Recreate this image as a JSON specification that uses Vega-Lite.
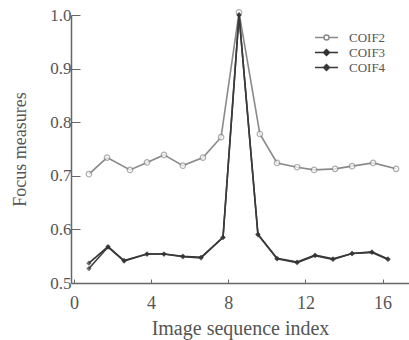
{
  "$schema": "https://vega.github.io/schema/vega-lite/v6.json",
  "width": 338,
  "height": 268,
  "autosize": {"type": "none"},
  "padding": {"left": 71, "top": 15, "right": 0, "bottom": 57},
  "background": "white",
  "config": {
    "view": {"stroke": null},
    "font": "Liberation Serif",
    "axis": {"grid": false, "domainColor": "#666", "tickColor": "#666", "labelColor": "#555", "titleColor": "#555", "labelFont": "Liberation Serif", "titleFont": "Liberation Serif", "titleFontWeight": "normal", "domainWidth": 1.5}
  },
  "data": {"values": [
    {"s": "COIF2", "x": 0.78, "y": 0.703},
    {"s": "COIF2", "x": 1.72, "y": 0.734},
    {"s": "COIF2", "x": 2.91, "y": 0.711},
    {"s": "COIF2", "x": 3.79, "y": 0.725},
    {"s": "COIF2", "x": 4.67, "y": 0.739},
    {"s": "COIF2", "x": 5.65, "y": 0.719},
    {"s": "COIF2", "x": 6.69, "y": 0.734},
    {"s": "COIF2", "x": 7.63, "y": 0.772},
    {"s": "COIF2", "x": 8.56, "y": 1.005},
    {"s": "COIF2", "x": 9.64, "y": 0.778},
    {"s": "COIF2", "x": 10.53, "y": 0.724},
    {"s": "COIF2", "x": 11.57, "y": 0.716},
    {"s": "COIF2", "x": 12.45, "y": 0.711},
    {"s": "COIF2", "x": 13.54, "y": 0.713},
    {"s": "COIF2", "x": 14.42, "y": 0.718},
    {"s": "COIF2", "x": 15.51, "y": 0.724},
    {"s": "COIF2", "x": 16.7, "y": 0.713},
    {"s": "COIF3", "x": 0.78, "y": 0.537},
    {"s": "COIF3", "x": 1.77, "y": 0.568},
    {"s": "COIF3", "x": 2.6, "y": 0.542},
    {"s": "COIF3", "x": 3.79, "y": 0.554},
    {"s": "COIF3", "x": 4.67, "y": 0.554},
    {"s": "COIF3", "x": 5.65, "y": 0.55},
    {"s": "COIF3", "x": 6.59, "y": 0.548},
    {"s": "COIF3", "x": 7.73, "y": 0.585},
    {"s": "COIF3", "x": 8.56, "y": 1.0},
    {"s": "COIF3", "x": 9.54, "y": 0.591},
    {"s": "COIF3", "x": 10.53, "y": 0.546},
    {"s": "COIF3", "x": 11.57, "y": 0.539},
    {"s": "COIF3", "x": 12.5, "y": 0.552},
    {"s": "COIF3", "x": 13.43, "y": 0.545},
    {"s": "COIF3", "x": 14.42, "y": 0.555},
    {"s": "COIF3", "x": 15.45, "y": 0.558},
    {"s": "COIF3", "x": 16.28, "y": 0.545},
    {"s": "COIF4", "x": 0.78, "y": 0.527},
    {"s": "COIF4", "x": 1.77, "y": 0.567},
    {"s": "COIF4", "x": 2.6, "y": 0.541},
    {"s": "COIF4", "x": 3.79, "y": 0.554},
    {"s": "COIF4", "x": 4.67, "y": 0.554},
    {"s": "COIF4", "x": 5.65, "y": 0.549},
    {"s": "COIF4", "x": 6.59, "y": 0.547},
    {"s": "COIF4", "x": 7.73, "y": 0.585},
    {"s": "COIF4", "x": 8.56, "y": 1.0},
    {"s": "COIF4", "x": 9.54, "y": 0.59},
    {"s": "COIF4", "x": 10.53, "y": 0.545},
    {"s": "COIF4", "x": 11.57, "y": 0.538},
    {"s": "COIF4", "x": 12.5, "y": 0.551},
    {"s": "COIF4", "x": 13.43, "y": 0.544},
    {"s": "COIF4", "x": 14.42, "y": 0.555},
    {"s": "COIF4", "x": 15.45, "y": 0.557},
    {"s": "COIF4", "x": 16.28, "y": 0.544}
  ]},
  "encoding": {
    "x": {"field": "x", "type": "quantitative", "scale": {"domain": [-0.15, 17.37], "nice": false, "zero": false},
      "axis": {"values": [0, 4, 8, 12, 16], "title": "Image  sequence index", "tickSize": -4, "labelFontSize": 18, "titleFontSize": 20, "labelPadding": 15, "titlePadding": 6, "labelFlush": false}},
    "y": {"field": "y", "type": "quantitative", "scale": {"domain": [0.5, 1.0], "nice": false, "zero": false},
      "axis": {"values": [0.5, 0.6, 0.7, 0.8, 0.9, 1.0], "format": ".1f", "title": "Focus measures", "tickSize": -9, "labelFontSize": 17, "titleFontSize": 18, "labelPadding": 9, "titlePadding": 20, "labelFlush": false}}
  },
  "layer": [
    {
      "mark": {"type": "rule", "color": "#666", "strokeWidth": 1.5},
      "data": {"values": [{"a": 1}]},
      "encoding": {"x": {"datum": -0.15}, "x2": {"datum": 17.37}, "y": {"datum": 1.0}}
    },
    {
      "mark": {"type": "line", "strokeWidth": 1.6, "clip": false},
      "encoding": {
        "detail": {"field": "s"},
        "color": {"field": "s", "type": "nominal",
          "scale": {"domain": ["COIF2", "COIF3", "COIF4"], "range": ["#8a8a8a", "#333333", "#3a3a3a"]},
          "legend": {"title": null, "orient": "none", "legendX": 249, "legendY": 16, "labelFontSize": 13, "labelColor": "#555", "labelFont": "Liberation Serif", "symbolSize": 100, "symbolStrokeWidth": 1.5, "rowPadding": 1, "labelOffset": 16, "symbolType": "M-2.3,0H-0.5M0.5,0H2.3M-0.5,0A0.5,0.5,0,1,1,0.5,0A0.5,0.5,0,1,1,-0.5,0",
            "encode": {"symbols": {"update": {
              "shape": {"signal": "datum.value === 'COIF2' ? 'M-2.3,0H-0.5M0.5,0H2.3M-0.5,0A0.5,0.5,0,1,1,0.5,0A0.5,0.5,0,1,1,-0.5,0' : 'M-2.3,0H2.3M0,-0.6L0.6,0L0,0.6L-0.6,0Z'"},
              "fill": {"signal": "datum.value === 'COIF2' ? 'white' : '#333'"}
            }}}}}
      }
    },
    {
      "transform": [{"filter": "datum.s === 'COIF2'"}],
      "mark": {"type": "point", "shape": "circle", "size": 30, "filled": true, "fill": "white", "stroke": "#8a8a8a", "strokeWidth": 1.2, "clip": false}
    },
    {
      "transform": [{"filter": "datum.s !== 'COIF2'"}],
      "mark": {"type": "point", "shape": "diamond", "size": 28, "filled": true, "color": "#333333", "clip": false}
    }
  ]
}
